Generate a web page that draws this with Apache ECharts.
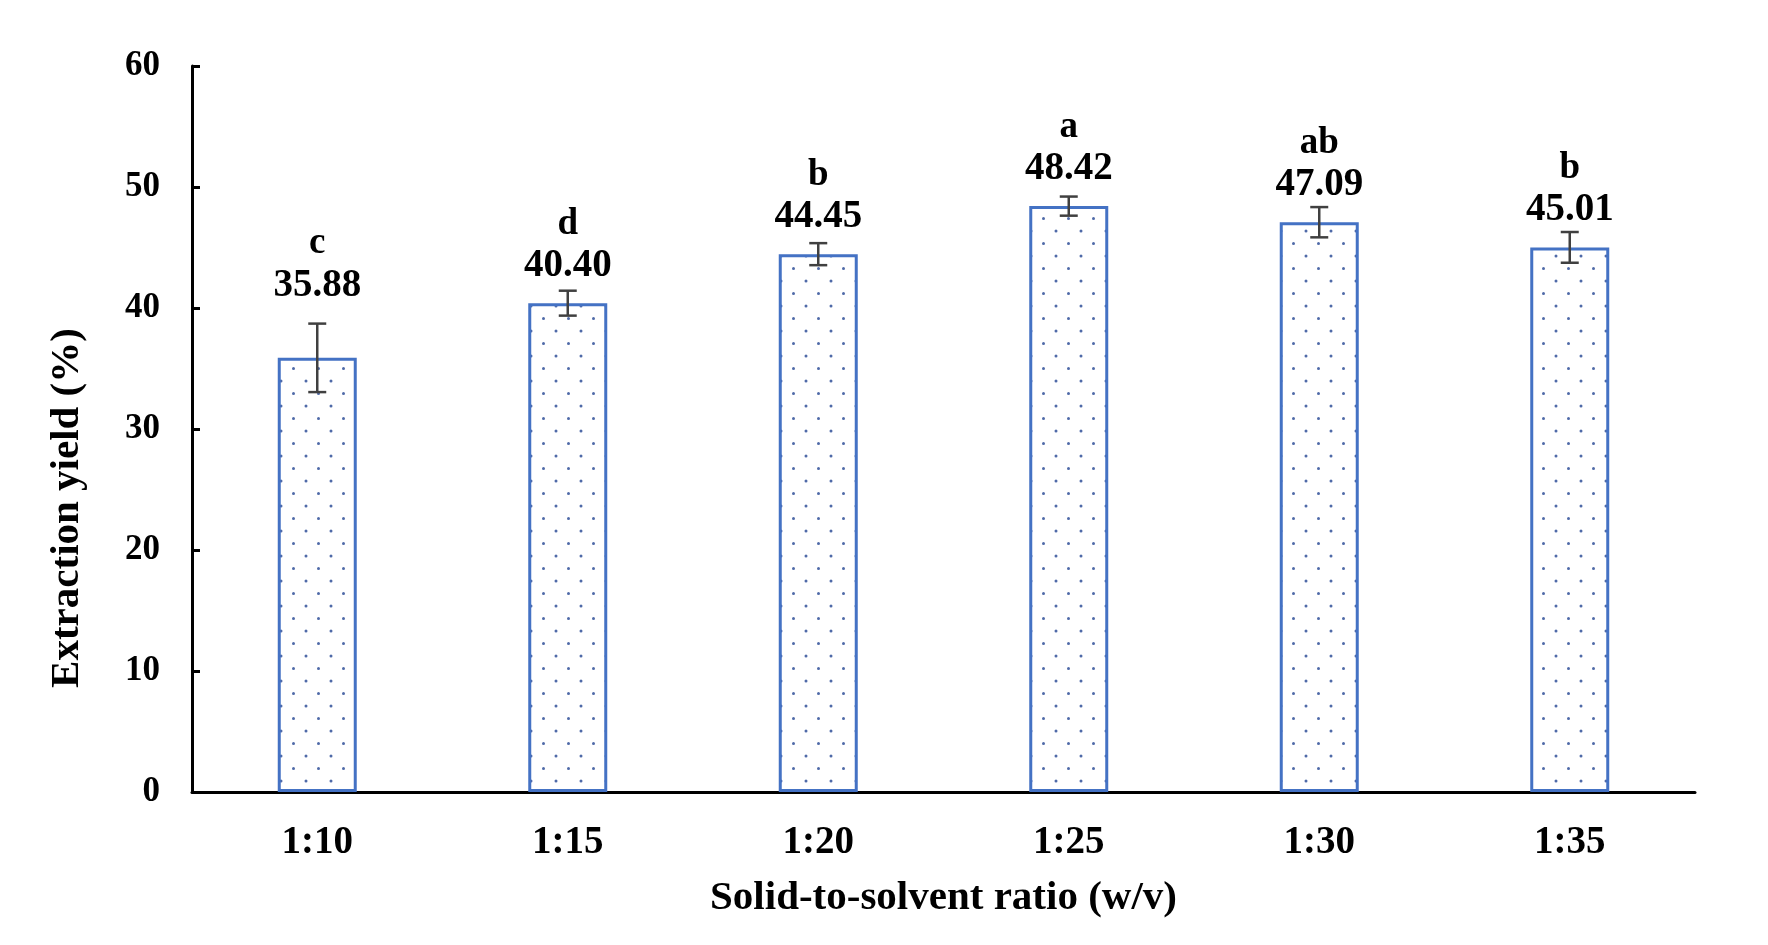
<!DOCTYPE html>
<html>
<head>
<meta charset="utf-8">
<script src="https://cdn.jsdelivr.net/npm/echarts@6/dist/echarts.min.js"></script>
<style>
html,body{margin:0;padding:0;background:#fff;}
#chart{width:1768px;height:945px;}
</style>
</head>
<body>
<div id="chart"></div>
<script>
var categories = ['1:10', '1:15', '1:20', '1:25', '1:30', '1:35'];
var yields = [35.88, 40.40, 44.45, 48.42, 47.09, 45.01];
var errors = [2.83, 1.03, 0.91, 0.79, 1.25, 1.27];
var letters = ['c', 'd', 'b', 'a', 'ab', 'b'];
var yTicks = [0, 10, 20, 30, 40, 50, 60];

var FONT = '"Liberation Serif", "Times New Roman", serif';

// dotted fill pattern
var pat = document.createElement('canvas');
pat.width = 25; pat.height = 25;
var pc = pat.getContext('2d');
pc.fillStyle = '#ffffff';
pc.fillRect(0, 0, 25, 25);
pc.fillStyle = '#4f6aa8';
pc.beginPath(); pc.arc(6, 6, 1.5, 0, Math.PI * 2); pc.fill();
pc.beginPath(); pc.arc(18.5, 18.5, 1.5, 0, Math.PI * 2); pc.fill();

var chart = echarts.init(document.getElementById('chart'), null, {renderer: 'canvas'});

var errData = yields.map(function (v, i) { return [i, v, errors[i]]; });

chart.setOption({
  animation: false,
  backgroundColor: '#ffffff',
  grid: {left: 192, right: 73, top: 66, bottom: 153, containLabel: false},
  xAxis: {
    type: 'category',
    data: categories,
    name: 'Solid-to-solvent ratio (w/v)',
    nameLocation: 'middle',
    nameGap: 86,
    nameTextStyle: {fontFamily: FONT, fontWeight: 'bold', fontSize: 41, color: '#000'},
    axisLine: {lineStyle: {color: '#000', width: 3}},
    axisTick: {show: true, inside: true, alignWithLabel: true, length: 7, lineStyle: {color: '#000', width: 3}},
    axisLabel: {fontFamily: FONT, fontWeight: 'bold', fontSize: 39, color: '#000', margin: 31},
    splitLine: {show: false}
  },
  yAxis: {
    type: 'value',
    min: 0, max: 60, interval: 10,
    name: 'Extraction yield (%)',
    nameLocation: 'middle',
    nameGap: 104,
    nameRotate: 90,
    nameTextStyle: {fontFamily: FONT, fontWeight: 'bold', fontSize: 41, color: '#000',
      padding: [0, 158, 0, 0]},
    axisLine: {show: true, lineStyle: {color: '#000', width: 3}},
    axisTick: {show: true, inside: true, length: 8, lineStyle: {color: '#000', width: 3}},
    axisLabel: {fontFamily: FONT, fontWeight: 'bold', fontSize: 35, color: '#000', margin: 32},
    splitLine: {show: false}
  },
  series: [
    {
      type: 'bar',
      data: yields,
      barWidth: 79,
      itemStyle: {
        color: {image: pat, repeat: 'repeat'},
        borderColor: '#4472C4',
        borderWidth: 3
      },
      z: 2
    },
    {
      type: 'custom',
      data: errData,
      z: 5,
      renderItem: function (params, api) {
        var i = api.value(0), v = api.value(1), e = api.value(2);
        var top = api.coord([i, v]);
        var hi = api.coord([i, v + e]);
        var lo = api.coord([i, v - e]);
        var cap = 9;
        var st = {stroke: '#404040', lineWidth: 2.5};
        var ly = top[1] - 37;
        if (ly > hi[1] - 15) { ly = hi[1] - 38; }
        return {
          type: 'group',
          children: [
            {type: 'line', shape: {x1: hi[0], y1: hi[1], x2: lo[0], y2: lo[1]}, style: st},
            {type: 'line', shape: {x1: hi[0] - cap, y1: hi[1], x2: hi[0] + cap, y2: hi[1]}, style: st},
            {type: 'line', shape: {x1: lo[0] - cap, y1: lo[1], x2: lo[0] + cap, y2: lo[1]}, style: st},
            {type: 'text', style: {text: yields[params.dataIndex].toFixed(2), x: hi[0], y: ly,
              align: 'center', verticalAlign: 'middle', fill: '#000',
              font: 'bold 39px ' + FONT}},
            {type: 'text', style: {text: letters[params.dataIndex], x: hi[0], y: ly - 42,
              align: 'center', verticalAlign: 'middle', fill: '#000',
              font: 'bold 37px ' + FONT}}
          ]
        };
      }
    }
  ]
});
</script>
</body>
</html>
